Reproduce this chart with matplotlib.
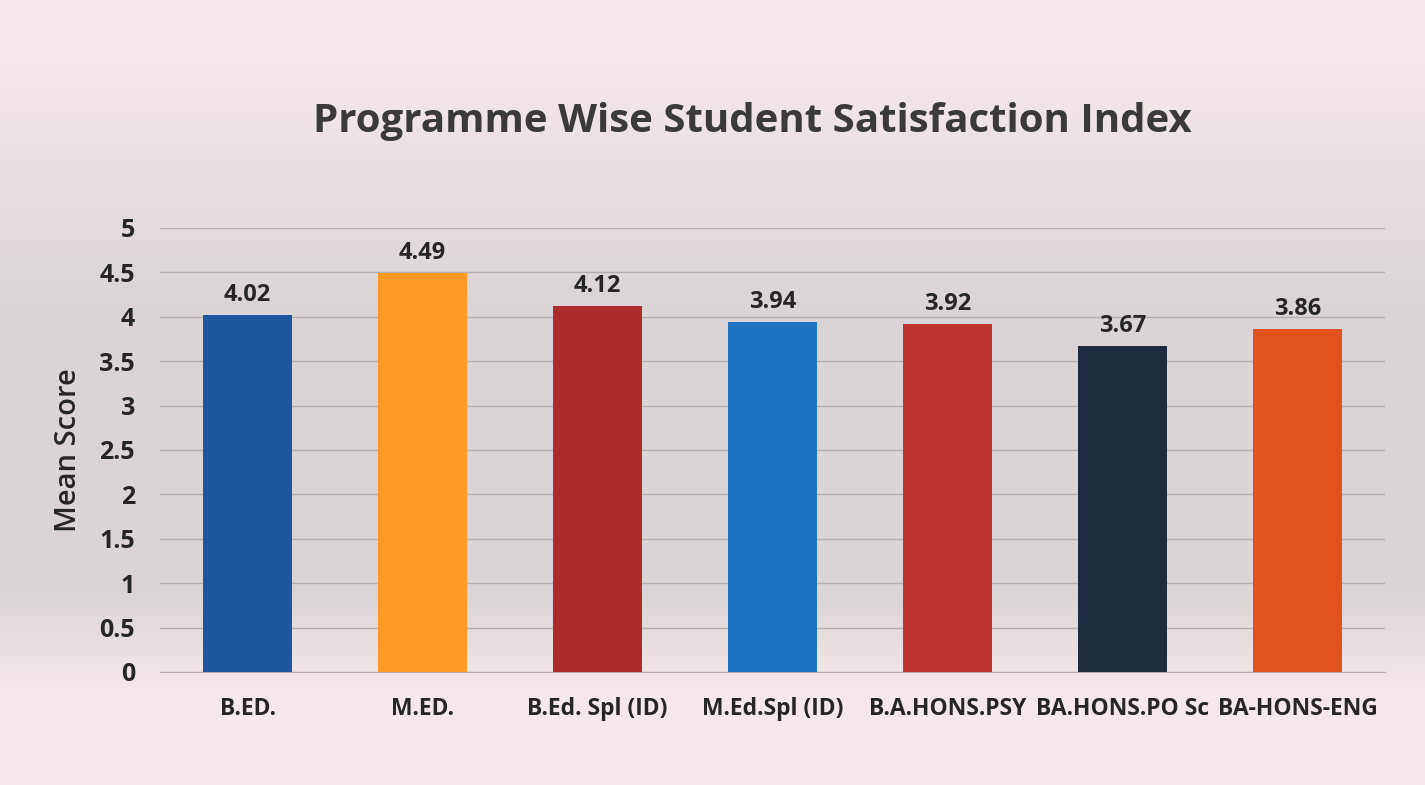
import matplotlib.pyplot as plt
import numpy as np

# data
programmes = ['B.ED.', 'M.ED.', 'B.Ed. Spl (ID)', 'M.Ed.Spl (ID)', 'B.A.HONS.PSY', 'BA.HONS.PO Sc', 'BA-HONS-ENG']
scores = [4.02, 4.49, 4.12, 3.94, 3.92, 3.67, 3.86]
bar_colors = ['#1E56A0', '#FF9A26', '#AE2B2B', '#1F74C2', '#BE3230', '#1F2C3F', '#E0531F']
yticks = [0, 0.5, 1, 1.5, 2, 2.5, 3, 3.5, 4, 4.5, 5]

plt.rcParams['font.family'] = ['Open Sans', 'DejaVu Sans']

fig = plt.figure(figsize=(14.25, 7.85), dpi=100)

# scanned-paper background: pinkish at top/bottom, greyer in the middle
bg = fig.add_axes([0, 0, 1, 1], zorder=-10)
t = np.linspace(0, 1, 400)
w = np.clip(np.minimum((t - 0.08) / 0.3, (0.88 - t) / 0.12), 0, 1)
top = np.array([0.96, 0.91, 0.92])
mid = np.array([0.86, 0.835, 0.84])
img = top[None, :] * (1 - w[:, None]) + mid[None, :] * w[:, None]
bg.imshow(img[:, None, :], aspect='auto', extent=[0, 1, 0, 1], interpolation='bilinear')
bg.axis('off')

ax = fig.add_axes([0.1123, 0.144, 0.8597, 0.5656])
ax.patch.set_alpha(0)
x = np.arange(len(programmes))
ax.bar(x, scores, width=0.51, color=bar_colors, zorder=3)
for xi, s in zip(x, scores):
    ax.text(xi, s + 0.09, '%.2f' % s, ha='center', va='bottom', fontsize=17,
            fontweight='bold', color='#262626')

ax.set_xlim(-0.5, len(programmes) - 0.5)
ax.set_ylim(0, 5)
ax.set_yticks(yticks)
ax.set_yticklabels(['%g' % t for t in yticks])
ax.grid(axis='y', color='#B4AEAF', linewidth=1, zorder=0)
ax.set_xticks(x)
ax.set_xticklabels(programmes)
for s in ['top', 'right', 'left']:
    ax.spines[s].set_visible(False)
ax.spines['bottom'].set_color('#B4AEAF')
ax.tick_params(axis='x', length=0, labelsize=16.5, colors='#262626', pad=18)
ax.tick_params(axis='y', length=0, labelsize=18, colors='#262626', pad=18)
for lbl in ax.get_xticklabels() + ax.get_yticklabels():
    lbl.set_fontweight('bold')
ax.set_ylabel('Mean Score', fontsize=21, fontweight='semibold', color='#262626', labelpad=12)

fig.text(0.528, 0.845, 'Programme Wise Student Satisfaction Index', ha='center', va='center',
         fontsize=29, fontweight='bold', color='#3A3A3A')

fig.savefig('out.png', dpi=100)
